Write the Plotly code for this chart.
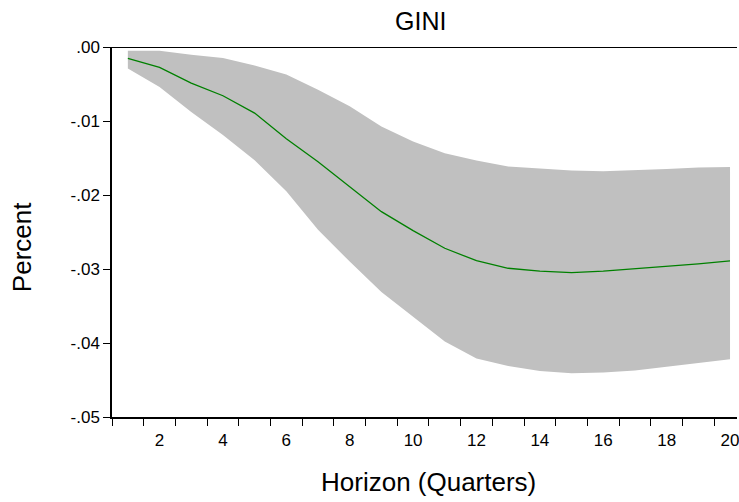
import plotly.graph_objects as go

horizon = list(range(1, 21))
response = [-0.00154, -0.00276, -0.00487, -0.00659, -0.00893, -0.0124, -0.0155,
            -0.01886, -0.02225, -0.02482, -0.0272, -0.02888, -0.0299, -0.0303,
            -0.0305, -0.0303, -0.0300, -0.0296, -0.0293, -0.0289]
upper = [-0.0005, -0.0005, -0.00104, -0.0015, -0.0025, -0.0037, -0.00578,
         -0.0080, -0.01074, -0.01277, -0.01435, -0.01534, -0.01615, -0.01647,
         -0.0167, -0.0168, -0.0167, -0.0165, -0.0163, -0.0162]
lower = [-0.0029, -0.0054, -0.0088, -0.0119, -0.0153, -0.0195, -0.0247,
         -0.0290, -0.0331, -0.0365, -0.0398, -0.0421, -0.0431, -0.0438,
         -0.0441, -0.0440, -0.0437, -0.0432, -0.0427, -0.0422]
y_ticks = [0.0, -0.01, -0.02, -0.03, -0.04, -0.05]
y_tick_labels = [".00", "-.01", "-.02", "-.03", "-.04", "-.05"]
x_ticks = [2, 4, 6, 8, 10, 12, 14, 16, 18, 20]

FONT = "Liberation Sans, Arial, sans-serif"

fig = go.Figure()
fig.add_trace(go.Scatter(x=horizon, y=upper, mode="lines", line=dict(width=0),
                         showlegend=False, hoverinfo="skip"))
fig.add_trace(go.Scatter(x=horizon, y=lower, mode="lines", line=dict(width=0),
                         fill="tonexty", fillcolor="#C0C0C0",
                         showlegend=False, hoverinfo="skip"))
fig.add_trace(go.Scatter(x=horizon, y=response, mode="lines",
                         line=dict(color="#008000", width=1.3),
                         showlegend=False))

fig.add_shape(type="line", xref="paper", yref="y", x0=0, x1=1, y0=0, y1=0,
              line=dict(color="black", width=2.2))

fig.update_layout(
    width=739, height=502,
    margin=dict(l=112, r=0, t=47, b=85),
    paper_bgcolor="white", plot_bgcolor="white",
    font=dict(family=FONT, color="black"),
    xaxis=dict(
        range=[0.5, 20.22], showgrid=False, zeroline=False,
        showline=True, linecolor="black", linewidth=1.5,
        tickmode="array", tickvals=x_ticks, ticktext=[str(v) for v in x_ticks],
        ticks="outside", ticklen=7, tickcolor="rgba(0,0,0,0)",
        ticklabeloverflow="allow",
        tickfont=dict(size=17, family=FONT),
        minor=dict(tickmode="linear", tick0=0.5, dtick=1, ticks="outside",
                   ticklen=7, tickwidth=1.3, tickcolor="black", showgrid=False),
    ),
    yaxis=dict(
        range=[-0.05, 0], showgrid=False, zeroline=False,
        showline=True, linecolor="black", linewidth=1.5,
        tickmode="array", tickvals=y_ticks, ticktext=y_tick_labels,
        ticks="outside", ticklen=7, tickwidth=1.3, tickcolor="black",
        tickfont=dict(size=17, family=FONT),
    ),
    annotations=[
        dict(text="GINI", xref="paper", yref="paper", x=0.494, y=1.07,
             xanchor="center", yanchor="middle", showarrow=False,
             font=dict(size=25, family=FONT)),
        dict(text="Horizon (Quarters)", xref="paper", yref="paper", x=0.506, y=-0.175,
             xanchor="center", yanchor="middle", showarrow=False,
             font=dict(size=26, family=FONT)),
        dict(text="Percent", xref="paper", yref="paper", x=-0.145, y=0.46,
             xanchor="center", yanchor="middle", showarrow=False, textangle=-90,
             font=dict(size=26, family=FONT)),
    ],
)

fig.write_html("out.html")
